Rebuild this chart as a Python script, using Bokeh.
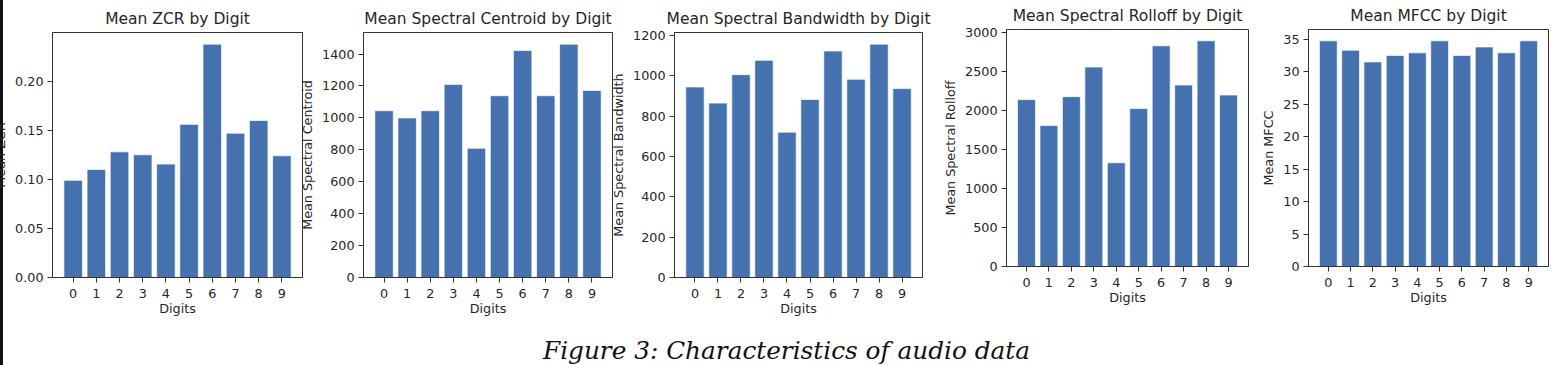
from bokeh.plotting import figure
from bokeh.layouts import row, column
from bokeh.models import Div, FixedTicker, NumeralTickFormatter, Range1d, BoxAnnotation
from bokeh.embed import file_html
from bokeh.resources import INLINE

# ---------------- data ----------------
digits = [0, 1, 2, 3, 4, 5, 6, 7, 8, 9]
zcr = [0.099, 0.110, 0.128, 0.125, 0.1155, 0.156, 0.2377, 0.147, 0.160, 0.124]
centroid = [1045, 1000, 1045, 1210, 810, 1139, 1423, 1139, 1462, 1172]
bandwidth = [944, 864, 1005, 1076, 720, 882, 1122, 982, 1156, 936]
rolloff = [2137, 1805, 2175, 2553, 1328, 2022, 2826, 2323, 2890, 2196]
mfcc = [34.75, 33.3, 31.5, 32.5, 32.9, 34.75, 32.5, 33.8, 32.9, 34.75]

titles = ["Mean ZCR by Digit", "Mean Spectral Centroid by Digit",
          "Mean Spectral Bandwidth by Digit", "Mean Spectral Rolloff by Digit",
          "Mean MFCC by Digit"]
ylabels = ["Mean ZCR", "Mean Spectral Centroid", "Mean Spectral Bandwidth",
           "Mean Spectral Rolloff", "Mean MFCC"]
xlabel = "Digits"
yticks = [
    [0.0, 0.05, 0.10, 0.15, 0.20],
    [0, 200, 400, 600, 800, 1000, 1200, 1400],
    [0, 200, 400, 600, 800, 1000, 1200],
    [0, 500, 1000, 1500, 2000, 2500, 3000],
    [0, 5, 10, 15, 20, 25, 30, 35],
]
caption = "Figure 3: Characteristics of audio data"

series = [zcr, centroid, bandwidth, rolloff, mfcc]

# layout: (margin_top, margin_left, frame_width, border_right, frame_height)
BL = 80   # fixed left border (larger than the axis needs)
geom = [
    (0, -31, 250, 30, 245),
    (0, -49, 249, 30, 245),
    (0, -48, 248, 30, 245),
    (-3, -26, 242, 30, 237),
    (-3, -50, 240, 3, 237),
]

BAR = "#4572AF"
INK = "#262626"
SPINE = "#333333"
FONT = "DejaVu Sans"

figs = []
for i in range(5):
    mt, ml, fw, br, fh = geom[i]
    vals = series[i]
    ymax = max(vals) * 1.05
    p = figure(frame_width=fw, frame_height=fh,
               min_border_left=BL, min_border_right=br,
               min_border_top=32, min_border_bottom=45,
               x_range=Range1d(-0.89, 9.89), y_range=Range1d(0, ymax),
               output_backend="svg", toolbar_location=None,
               title=titles[i])
    p.margin = (mt, 0, 0, ml)
    p.border_fill_alpha = 0
    p.vbar(x=digits, top=vals, width=0.8, bottom=0,
           fill_color=BAR, line_color="white", line_width=1, line_alpha=0.7)
    p.xgrid.visible = False
    p.ygrid.visible = False
    p.outline_line_color = SPINE
    p.outline_line_width = 1
    p.background_fill_color = "white"
    p.title.text_font = FONT
    p.title.text_font_size = "15.5px"
    p.title.text_font_style = "normal"
    p.title.text_color = INK
    p.title.align = "center"
    p.title.standoff = 9
    for ax in (p.xaxis[0], p.yaxis[0]):
        ax.axis_line_color = SPINE
        ax.major_tick_line_color = SPINE
        ax.major_tick_in = 0
        ax.major_tick_out = 5
        ax.minor_tick_in = 0
        ax.minor_tick_out = 0
        ax.major_label_text_font = FONT
        ax.major_label_text_font_size = "12.75px"
        ax.major_label_text_color = INK
        ax.axis_label_text_font = FONT
        ax.axis_label_text_font_size = "12.75px"
        ax.axis_label_text_font_style = "normal"
        ax.axis_label_text_color = INK
    p.xaxis.ticker = FixedTicker(ticks=digits)
    p.xaxis.axis_label = xlabel
    p.xaxis.major_label_standoff = 6
    p.xaxis.axis_label_standoff = 0
    p.yaxis.ticker = FixedTicker(ticks=yticks[i])
    p.yaxis.axis_label = ylabels[i]
    p.yaxis.major_label_standoff = 4
    p.yaxis.axis_label_standoff = 4
    if i == 0:
        p.yaxis.formatter = NumeralTickFormatter(format="0.00")
        # dark page edge seen at the far left of the picture
        p.add_layout(BoxAnnotation(left=28, right=31, top=0, bottom=330,
                                   left_units="canvas", right_units="canvas",
                                   top_units="canvas", bottom_units="canvas",
                                   fill_color="#111111", fill_alpha=1,
                                   line_alpha=0, level="overlay"))
    figs.append(p)

cap = Div(text=caption, width=1547, height=28, margin=(15, 0, 0, 0),
          styles={"font-family": "DejaVu Serif", "font-style": "italic",
                  "font-size": "24.75px", "line-height": "28px",
                  "color": "#111111", "padding-left": "540px",
                  "white-space": "nowrap"})

layout = column(row(*figs, spacing=0), cap, spacing=0)
layout.styles = {"border-left": "3px solid #111111"}

open("out.html", "w").write(file_html(layout, INLINE))
